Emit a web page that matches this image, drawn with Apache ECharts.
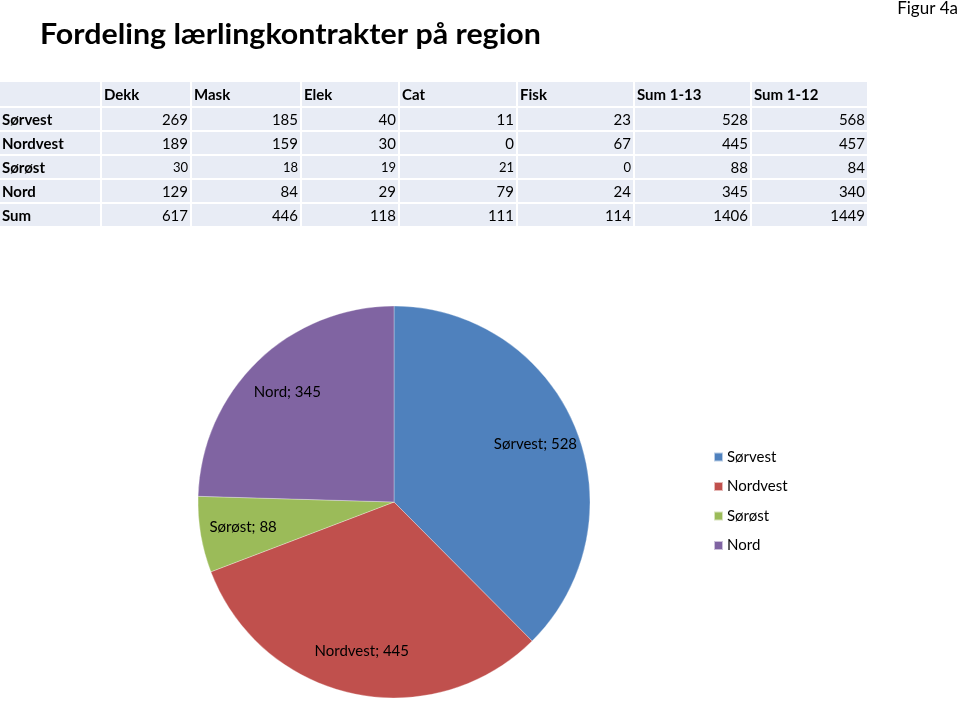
<!DOCTYPE html>
<html>
<head>
<meta charset="utf-8">
<script src="https://cdn.jsdelivr.net/npm/echarts@6/dist/echarts.min.js"></script>
<style>
html,body{margin:0;padding:0;background:#fff;}
#chart{width:960px;height:704px;}
</style>
</head>
<body>
<div id="chart"></div>
<script>
// ---- data ----
const titleText = 'Fordeling lærlingkontrakter på region';
const figLabel = 'Figur 4a';
const columns = ['Dekk', 'Mask', 'Elek', 'Cat', 'Fisk', 'Sum 1-13', 'Sum 1-12'];
const rowNames = ['Sørvest', 'Nordvest', 'Sørøst', 'Nord', 'Sum'];
const dekk = [269, 189, 30, 129, 617];
const mask = [185, 159, 18, 84, 446];
const elek = [40, 30, 19, 29, 118];
const cat = [11, 0, 21, 79, 111];
const fisk = [23, 67, 0, 24, 114];
const sum113 = [528, 445, 88, 345, 1406];
const sum112 = [568, 457, 84, 340, 1449];
const pieNames = ['Sørvest', 'Nordvest', 'Sørøst', 'Nord'];
const pieValues = [528, 445, 88, 345];

// ---- layout / style ----
const colors = ['#4F81BD', '#C0504D', '#9BBB59', '#8064A2'];
const FONT = 'Lato, "Open Sans", sans-serif';
const colEdges = [[0, 100], [102, 190], [192, 300], [302, 398], [400, 516], [518, 633], [635, 750], [752, 867]];
const headerTop = 82, headerH = 24, rowH = 22, rowGap = 2;
const cellFill = '#E8ECF5';

const valueCols = [dekk, mask, elek, cat, fisk, sum113, sum112];
const graphics = [];

// title
graphics.push({type: 'text', x: 40, y: 21, scaleX: 1.085, style: {text: titleText, font: 'bold 28px ' + FONT, fill: '#000'}});
graphics.push({type: 'text', right: 2, top: 0, style: {text: figLabel, font: '17px ' + FONT, fill: '#000'}});

// header row
colEdges.forEach(function (e, ci) {
  graphics.push({type: 'rect', shape: {x: e[0], y: headerTop, width: e[1] - e[0], height: headerH}, style: {fill: cellFill}, silent: true});
  if (ci > 0) {
    graphics.push({type: 'text', x: e[0] + 2, y: headerTop + headerH / 2 + 1,
      style: {text: columns[ci - 1], font: 'bold 15px ' + FONT, fill: '#000', textVerticalAlign: 'middle', textAlign: 'left'}});
  }
});
// data rows
rowNames.forEach(function (rn, ri) {
  const y = headerTop + headerH + rowGap + ri * (rowH + rowGap);
  colEdges.forEach(function (e, ci) {
    graphics.push({type: 'rect', shape: {x: e[0], y: y, width: e[1] - e[0], height: rowH}, style: {fill: cellFill}, silent: true});
    if (ci === 0) {
      graphics.push({type: 'text', x: 2, y: y + rowH / 2 + 1,
        style: {text: rn, font: 'bold 15px ' + FONT, fill: '#000', textVerticalAlign: 'middle', textAlign: 'left'}});
    } else {
      const small = (ri === 2 && ci <= 5);
      graphics.push({type: 'text', x: e[1] - 2, y: y + rowH / 2 + 1,
        style: {text: String(valueCols[ci - 1][ri]), font: (small ? '13px ' : '15px ') + FONT, fill: '#000', textVerticalAlign: 'middle', textAlign: 'right'}});
    }
  });
});

const pieData = pieNames.map(function (n, i) { return {name: n, value: pieValues[i], itemStyle: {color: colors[i]}}; });
const labelData = pieNames.map(function (n, i) { return {name: n, value: pieValues[i]}; });

const chart = echarts.init(document.getElementById('chart'), null, {renderer: 'canvas'});
chart.setOption({
  animation: false,
  backgroundColor: '#fff',
  graphic: graphics,
  legend: {
    orient: 'vertical',
    left: 713,
    top: 448,
    padding: 0,
    itemWidth: 9,
    itemHeight: 9,
    itemGap: 11.5,
    icon: 'rect',
    selectedMode: false,
    textStyle: {fontFamily: FONT, fontSize: 15, color: '#000', lineHeight: 18, padding: [0, 0, 0, -1]},
    data: pieNames.map(function (n, i) { return {name: n, itemStyle: {color: colors[i]}}; })
  },
  series: [
    {
      type: 'pie',
      center: [394, 502],
      radius: [0, 196],
      startAngle: 90,
      clockwise: true,
      label: {show: false},
      labelLine: {show: false},
      silent: true,
      itemStyle: {borderColor: 'rgba(255,255,255,0.6)', borderWidth: 0.5},
      data: pieData
    },
    {
      type: 'pie',
      center: [394, 502],
      radius: [104, 196],
      startAngle: 90,
      clockwise: true,
      silent: true,
      itemStyle: {color: 'rgba(0,0,0,0)'},
      label: {show: true, position: 'inside', formatter: '{b}; {c}', fontFamily: FONT, fontSize: 15, color: '#000'},
      labelLine: {show: false},
      data: labelData
    }
  ]
});
</script>
</body>
</html>
